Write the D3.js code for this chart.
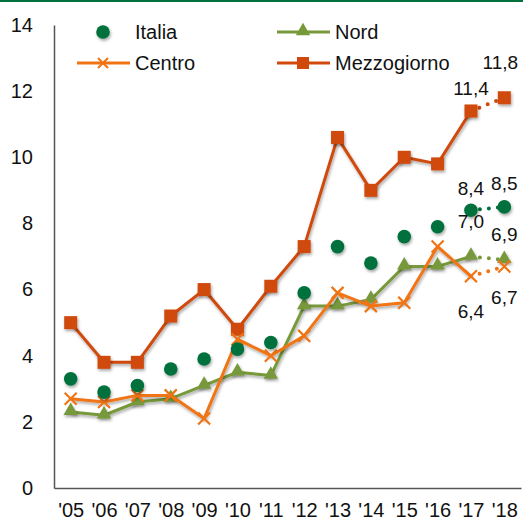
<!DOCTYPE html>
<html><head><meta charset="utf-8">
<script src="https://cdn.jsdelivr.net/npm/d3@7/dist/d3.min.js"></script>
<style>body{margin:0;background:#fff}svg{display:block}text{font-family:"Liberation Sans",Arial,sans-serif;fill:#111}</style>
</head><body><div id="c"></div>
<script>
const years = ["'05","'06","'07","'08","'09","'10","'11","'12","'13","'14","'15","'16","'17","'18"];
const italia = [3.3,2.9,3.1,3.6,3.9,4.2,4.4,5.9,7.3,6.8,7.6,7.9,8.4,8.5];
const nord = [2.3,2.2,2.6,2.7,3.1,3.5,3.4,5.5,5.5,5.7,6.7,6.7,7.0,6.9];
const centro = [2.7,2.6,2.8,2.8,2.1,4.5,4.0,4.6,5.9,5.5,5.6,7.3,6.4,6.7];
const mezzogiorno = [5.0,3.8,3.8,5.2,6.0,4.8,6.1,7.3,10.6,9.0,10.0,9.8,11.4,11.8];
const yTicks = [0,2,4,6,8,10,12,14];

const W=523,H=523;
const svg=d3.select("#c").append("svg").attr("width",W).attr("height",H);
const defs=svg.append("defs");
const f=defs.append("filter").attr("id","sh").attr("x","-50%").attr("y","-50%").attr("width","200%").attr("height","200%");
f.append("feDropShadow").attr("dx",1).attr("dy",2).attr("stdDeviation",1.5).attr("flood-color","#000").attr("flood-opacity",0.35);

svg.append("rect").attr("x",0).attr("y",0).attr("width",W).attr("height",2).attr("fill","#00703C");

const x=d3.scalePoint().domain(years).range([54,521]).padding(0.5);
const y=d3.scaleLinear().domain([0,14]).range([488,25]);

const FS="20px";
// axes
const ya=svg.append("g").attr("transform","translate(54,0)").call(d3.axisLeft(y).tickValues(yTicks).tickSize(0).tickPadding(21));
ya.select(".domain").attr("stroke","#555").attr("stroke-width",1.5);
ya.selectAll("text").style("font-size",FS).attr("fill","#111").attr("font-family","Liberation Sans, Arial, sans-serif");
const xa=svg.append("g").attr("transform","translate(0,488)").call(d3.axisBottom(x).tickSize(0).tickPadding(15));
xa.select(".domain").attr("stroke","#555").attr("stroke-width",1.5);
xa.selectAll("text").style("font-size",FS).attr("fill","#111").attr("font-family","Liberation Sans, Arial, sans-serif");

const C={italia:"#00703C",nord:"#77993A",centro:"#F07414",mezzo:"#D0490A"};

function lines(data,color){
  const pts=data.map((d,i)=>[x(years[i]),y(d)]);
  svg.append("path").attr("d",d3.line()(pts.slice(0,pts.length-1))).attr("fill","none").attr("stroke",color).attr("stroke-width",3).attr("stroke-linejoin","round").attr("filter","url(#sh)");
  dotted(pts.slice(pts.length-2),color);
}
function dotted(p,color){
  svg.append("path").attr("d",d3.line()(p)).attr("fill","none").attr("stroke",color).attr("stroke-width",4).attr("stroke-linecap","round").attr("stroke-dasharray","0,9").attr("stroke-dashoffset",-9);
}

// Mezzogiorno
lines(mezzogiorno,C.mezzo);
svg.append("g").selectAll("rect").data(mezzogiorno).join("rect")
  .attr("x",(d,i)=>x(years[i])-6.5).attr("y",d=>y(d)-6.5).attr("width",13).attr("height",13)
  .attr("fill",C.mezzo).attr("filter","url(#sh)");

// Nord
lines(nord,C.nord);
const tri=d3.symbol().type(d3.symbolTriangle).size(90);
svg.append("g").selectAll("path").data(nord).join("path")
  .attr("d",tri).attr("transform",(d,i)=>`translate(${x(years[i])},${y(d)-1})`)
  .attr("fill",C.nord).attr("filter","url(#sh)");

// Centro
lines(centro,C.centro);
svg.append("g").selectAll("path").data(centro).join("path")
  .attr("d","M-6,-6L6,6M-6,6L6,-6").attr("transform",(d,i)=>`translate(${x(years[i])},${y(d)})`)
  .attr("stroke",C.centro).attr("stroke-width",2.2).attr("fill","none");

// Italia
dotted(italia.slice(-2).map((d,i)=>[x(years[12+i]),y(d)]),C.italia);
svg.append("g").selectAll("circle").data(italia).join("circle")
  .attr("cx",(d,i)=>x(years[i])).attr("cy",d=>y(d)).attr("r",6.8)
  .attr("fill",C.italia).attr("filter","url(#sh)");

// value labels
const fmt=v=>v.toFixed(1).replace(".",",");
const labs=[
  [12,mezzogiorno,-16,0],[13,mezzogiorno,-29,-4],
  [12,italia,-15,0],[13,italia,-17,0],
  [12,nord,-29,0],[13,nord,-19,0],
  [12,centro,42,0],[13,centro,38,0]
];
labs.forEach(([i,arr,dy,dx])=>{
  svg.append("text").attr("x",x(years[i])+dx).attr("y",y(arr[i])+dy).attr("text-anchor","middle").style("font-size","19px").text(fmt(arr[i]));
});

// legend
const lg=svg.append("g");
lg.append("circle").attr("cx",103).attr("cy",32).attr("r",6.8).attr("fill",C.italia).attr("filter","url(#sh)");
lg.append("text").attr("x",135).attr("y",39).style("font-size",FS).text("Italia");
lg.append("line").attr("x1",277).attr("x2",330).attr("y1",32).attr("y2",32).attr("stroke",C.nord).attr("stroke-width",3);
lg.append("path").attr("d",tri).attr("transform","translate(303,31)").attr("fill",C.nord);
lg.append("text").attr("x",335).attr("y",39).style("font-size",FS).text("Nord");
lg.append("line").attr("x1",77).attr("x2",130).attr("y1",63).attr("y2",63).attr("stroke",C.centro).attr("stroke-width",3);
lg.append("path").attr("d","M-5,-5L5,5M-5,5L5,-5").attr("transform","translate(103,63)").attr("stroke",C.centro).attr("stroke-width",2);
lg.append("text").attr("x",135).attr("y",70).style("font-size",FS).text("Centro");
lg.append("line").attr("x1",277).attr("x2",330).attr("y1",63).attr("y2",63).attr("stroke",C.mezzo).attr("stroke-width",3);
lg.append("rect").attr("x",297).attr("y",57).attr("width",12).attr("height",12).attr("fill",C.mezzo);
lg.append("text").attr("x",335).attr("y",70).style("font-size",FS).text("Mezzogiorno");
</script></body></html>
